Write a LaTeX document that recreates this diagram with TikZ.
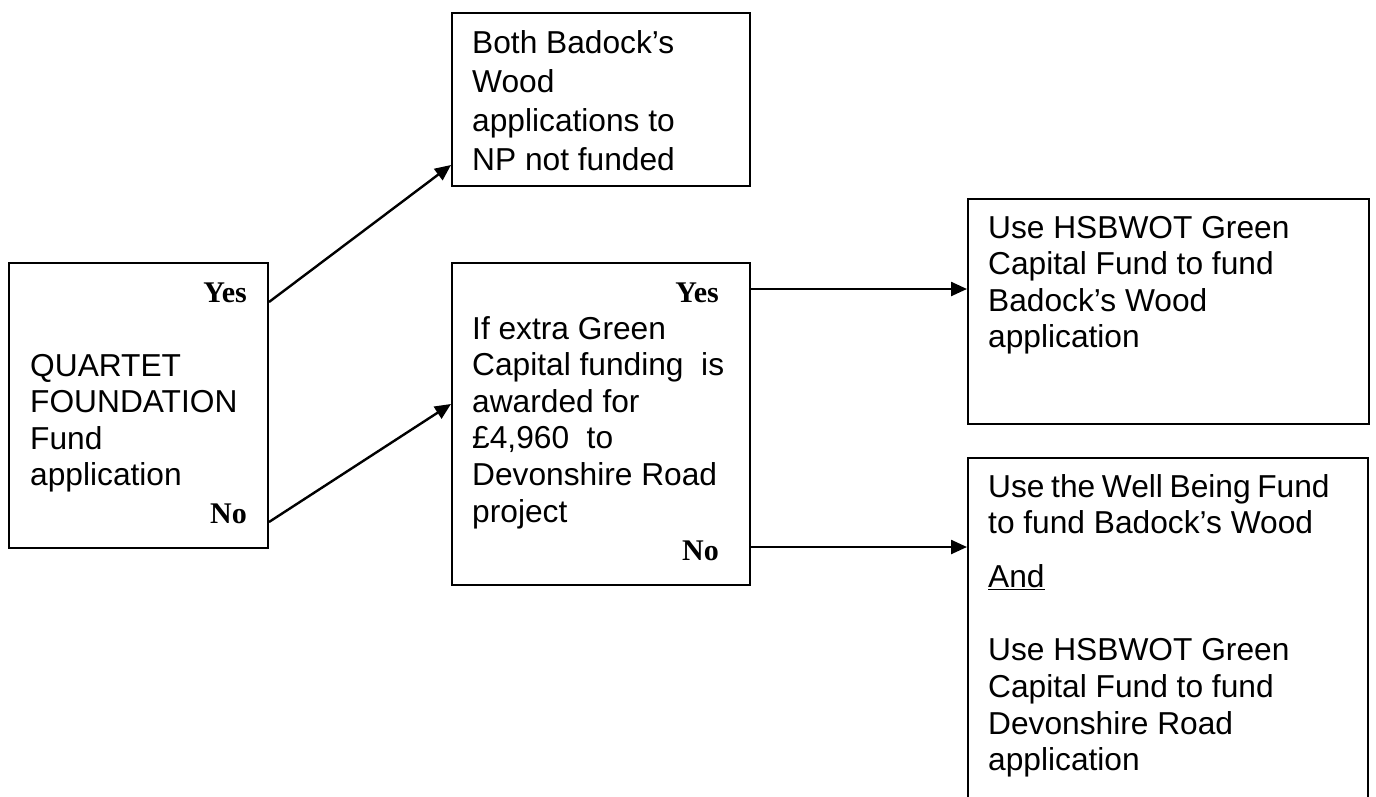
\documentclass[tikz,border=0pt]{standalone}
\usepackage{fontspec}
\setmainfont{Liberation Sans}
\newfontfamily\ynfont{Liberation Serif}
\usetikzlibrary{arrows.meta,calc}
\begin{document}
\begin{tikzpicture}[x=1pt,y=-1pt,
  box/.style={draw, line width=2pt, inner sep=0pt, anchor=north west},
  txt/.style={anchor=base west, inner sep=0pt, font=\fontsize{31.7}{36.6}\selectfont},
  yn/.style={anchor=base east, inner sep=0pt, font=\ynfont\bfseries\fontsize{30}{30}\selectfont},
  arr/.style={line width=2.4pt, -{Triangle[length=16pt,width=14pt]}}]
\useasboundingbox (0,0) rectangle (1376,796);
% boxes
\node[box, minimum width=259pt, minimum height=285pt] (A) at (8,262) {};
\node[box, minimum width=298pt, minimum height=173pt] (B) at (451,12) {};
\node[box, minimum width=298pt, minimum height=322pt] (C) at (451,262) {};
\node[box, minimum width=401pt, minimum height=225pt] (D) at (967,198) {};
\node[box, minimum width=400pt, minimum height=360pt] (E) at (967,457) {};
% texts
\node[txt] (At) at (30,376) {\parbox[t]{12cm}{QUARTET\\FOUNDATION\\Fund\\application}};
\node[yn] (Ay) at (247,302) {Yes};
\node[yn] (An) at (247,523) {No};
\node[txt, font=\fontsize{31.7}{39}\selectfont] (Bt) at (472,53) {\parbox[t]{12cm}{Both Badock’s\\Wood\\applications to\\NP not funded}};
\node[txt] (Ct) at (472,339) {\parbox[t]{12cm}{If extra Green\\Capital funding~ is\\awarded for\\£4,960~ to\\Devonshire Road\\project}};
\node[yn] (Cy) at (719,302) {Yes};
\node[yn] (Cn) at (719,560) {No};
\node[txt] (Dt) at (988,238) {\parbox[t]{12cm}{Use HSBWOT Green\\Capital Fund to fund\\Badock’s Wood\\application}};
\node[txt] (Et) at (988,497) {\parbox[t]{12cm}{Use the Well Being Fund\\to fund Badock’s Wood\\[17.5pt]\underline{And}\\[36.5pt]Use HSBWOT Green\\Capital Fund to fund\\Devonshire Road\\application}};
% arrows
\draw[arr] ($(A.north east)+(0,40)$) -- ($(B.south west)+(0,-22)$);
\draw[arr] ($(A.south east)+(0,-27)$) -- ($(C.north west)+(0,142)$);
\draw[arr] ($(C.north east)+(0,27)$) -- ($(D.north west)+(0,91)$);
\draw[arr] ($(C.north east)+(0,285)$) -- ($(E.north west)+(0,90)$);
\end{tikzpicture}
\end{document}
